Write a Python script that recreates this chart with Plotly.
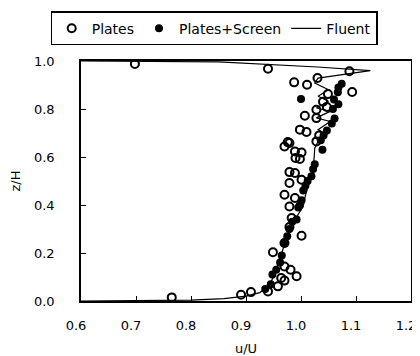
import plotly.graph_objects as go

# Plates (open circles)
plates_u = [0.698, 0.765, 0.891, 0.909, 0.940, 0.958, 0.964, 0.970, 0.992, 0.981, 0.970,
            0.949, 0.970, 1.001, 0.979, 0.983, 0.979, 0.989, 0.970, 1.001, 0.979,
            0.989, 0.979, 0.990, 0.998, 1.001, 0.989, 0.970, 0.979, 0.976, 1.028,
            1.010, 0.998, 1.028, 1.007, 1.028, 1.047, 1.049, 1.093, 1.011, 0.9875,
            1.030, 1.088, 0.940, 1.033, 1.040]
plates_z = [0.988, 0.015, 0.026, 0.037, 0.968, 0.061, 0.096, 0.085, 0.103, 0.130, 0.144,
            0.203, 0.242, 0.272, 0.308, 0.346, 0.394, 0.429, 0.443, 0.505, 0.492,
            0.533, 0.537, 0.596, 0.592, 0.619, 0.623, 0.644, 0.658, 0.662, 0.665,
            0.704, 0.714, 0.762, 0.772, 0.797, 0.808, 0.862, 0.871, 0.901, 0.911,
            0.929, 0.957, 0.040, 0.690, 0.830]

# Plates+Screen (filled circles)
screen_u = [0.935, 0.945, 0.948, 0.955, 0.962, 0.965, 0.970, 0.975, 0.979, 0.984, 0.992,
            0.995, 0.998, 1.001, 1.004, 1.008, 1.012, 1.019, 1.022, 1.025, 1.039,
            1.036, 1.041, 1.047, 1.056, 1.061, 1.058, 1.068, 1.060, 1.000, 1.067,
            1.068, 1.074]
screen_z = [0.050, 0.070, 0.110, 0.130, 0.160, 0.190, 0.240, 0.270, 0.300, 0.330, 0.340,
            0.390, 0.400, 0.420, 0.460, 0.480, 0.500, 0.520, 0.550, 0.570, 0.630,
            0.670, 0.690, 0.710, 0.740, 0.760, 0.800, 0.820, 0.840, 0.842, 0.870,
            0.890, 0.905]

# Fluent profile
fluent_u = [0.60, 0.80, 0.86, 0.90, 0.925, 0.94, 0.95, 0.958, 0.965, 0.972, 0.98, 0.992,
            1.004, 1.008, 1.013, 1.022, 1.024, 1.025, 1.031, 1.034, 1.047, 1.031, 1.053,
            1.028, 1.053, 1.028, 1.050, 1.031, 1.050, 1.025, 1.031, 1.126, 1.03, 0.93,
            0.85, 0.60]
fluent_z = [0.0, 0.004, 0.01, 0.02, 0.035, 0.06, 0.10, 0.15, 0.20, 0.25, 0.30, 0.35,
            0.394, 0.44, 0.478, 0.533, 0.60, 0.637, 0.665, 0.672, 0.693, 0.714, 0.748,
            0.763, 0.79, 0.804, 0.832, 0.853, 0.88, 0.908, 0.929, 0.96, 0.975, 0.988,
            0.996, 1.0]

x_ticks = [0.6, 0.7, 0.8, 0.9, 1.0, 1.1, 1.2]
y_ticks = [0.0, 0.2, 0.4, 0.6, 0.8, 1.0]

font = "DejaVu Sans, Arial, sans-serif"

fig = go.Figure()
fig.add_trace(go.Scatter(x=plates_u, y=plates_z, mode="markers", name="Plates",
                         marker=dict(symbol="circle-open", size=8, color="black",
                                     line=dict(width=2, color="black"))))
fig.add_trace(go.Scatter(x=screen_u, y=screen_z, mode="markers", name="Plates+Screen",
                         marker=dict(symbol="circle", size=8, color="black")))
fig.add_trace(go.Scatter(x=fluent_u, y=fluent_z, mode="lines", name="Fluent",
                         line=dict(color="black", width=1.2)))

axis_common = dict(showgrid=False, zeroline=False, showline=True, linecolor="black",
                   linewidth=1.5, mirror=True, ticks="inside", ticklen=5,
                   tickcolor="black", tickwidth=1.2, automargin=False,
                   ticklabeloverflow="allow",
                   tickfont=dict(family=font, size=13, color="black"))

fig.update_layout(
    width=412, height=348,
    margin=dict(l=73, r=9, t=53, b=55, autoexpand=False),
    paper_bgcolor="white", plot_bgcolor="white",
    font=dict(family=font, size=13, color="black"),
    showlegend=True,
    legend=dict(orientation="h", x=0.5, xanchor="center", xref="container",
                y=0.99, yanchor="top", yref="container",
                bordercolor="black", borderwidth=1.2,
                font=dict(family=font, size=14), itemwidth=30),
    xaxis=dict(range=[0.6, 1.2], tickvals=x_ticks, ticktext=[f"{v:.1f}" for v in x_ticks],
               title=dict(text="u/U", font=dict(size=13), standoff=17),
               ticklabelstandoff=12, ticklabelshift=-5, **axis_common),
    yaxis=dict(range=[0.0, 1.0], tickvals=y_ticks, ticktext=[f"{v:.1f}" for v in y_ticks],
               title=dict(text="z/H", font=dict(size=13)),
               ticklabelstandoff=22, **axis_common),
)

fig.write_html("out.html")
